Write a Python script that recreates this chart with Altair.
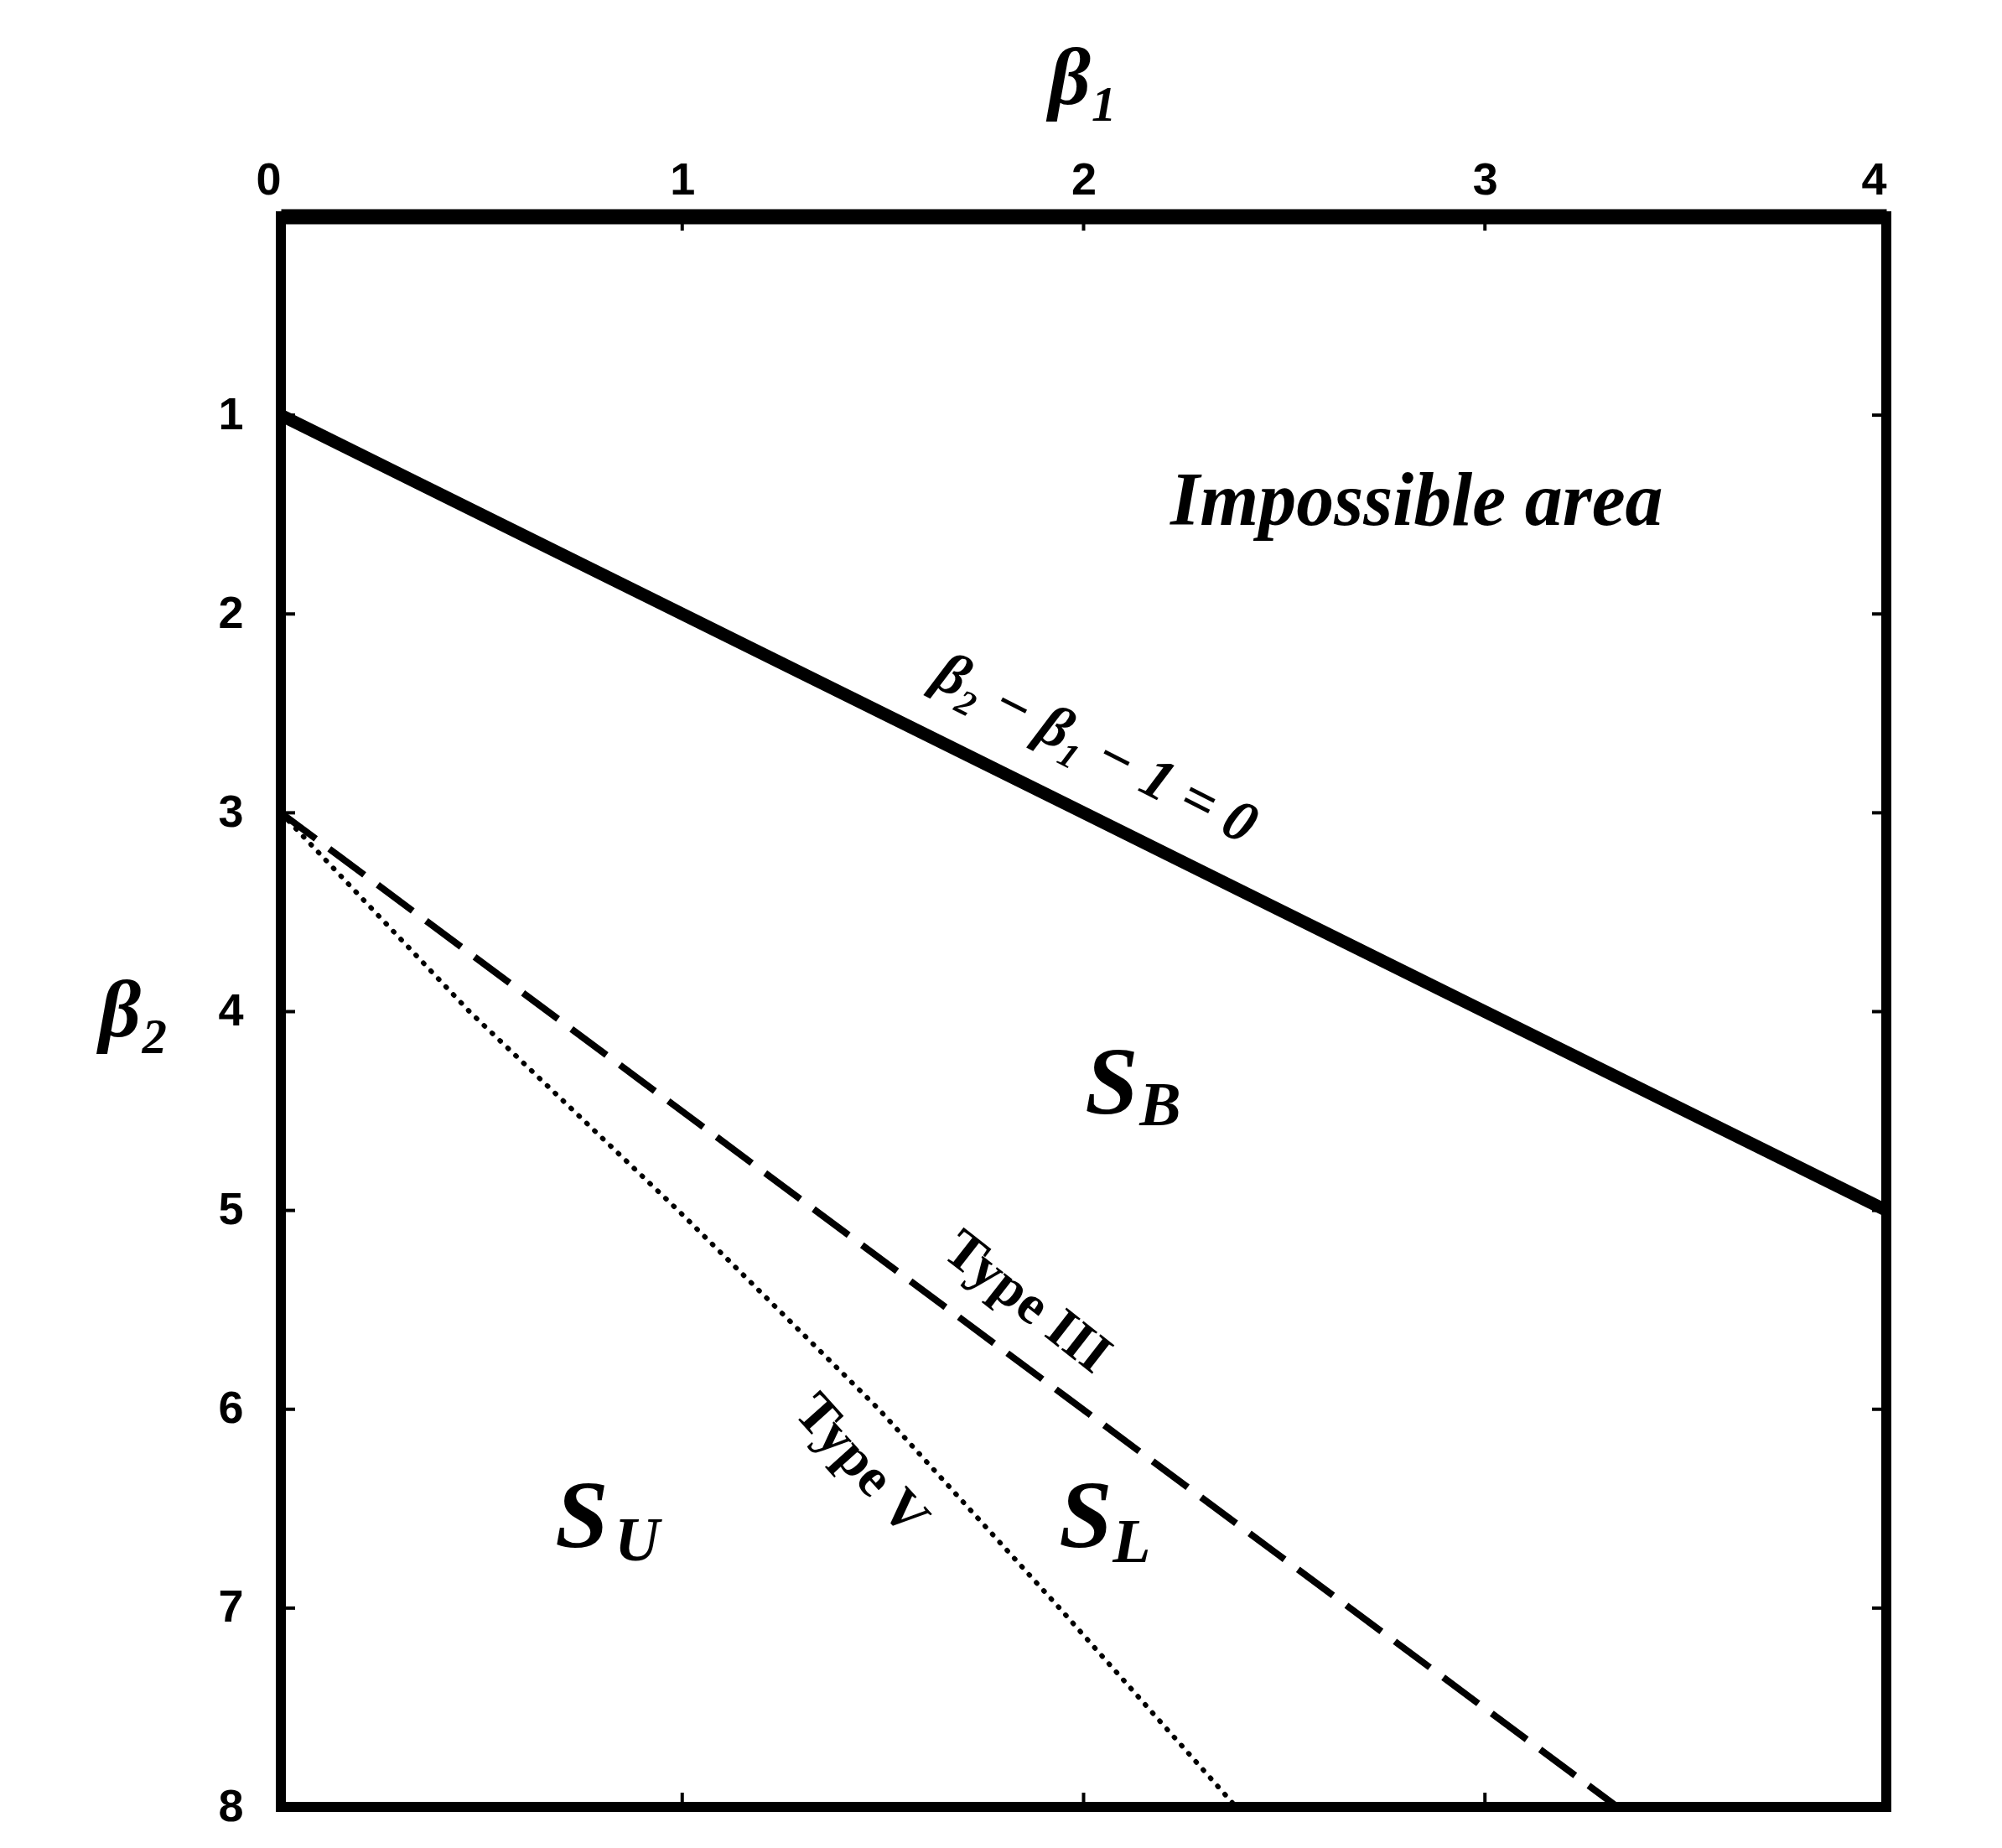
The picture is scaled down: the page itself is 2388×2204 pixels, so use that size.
import altair as alt
import pandas as pd

W, H = 1915, 1897

# axis tick values
b1_ticks = [0, 1, 2, 3, 4]
b2_ticks = [1, 2, 3, 4, 5, 6, 7, 8]
inner_b1_ticks = [1, 2, 3]
inner_b2_ticks = [1, 2, 3, 4, 5, 6, 7]

# boundary  beta2 - beta1 - 1 = 0
boundary_b1 = [0.0, 4.0]
boundary_b2 = [1.0, 5.0]
# Type III line (dashed)
type3_b1 = [0.0, 3.33]
type3_b2 = [3.0, 8.0]
# Type V curve (dotted)
type5_b1 = [0.0, 0.47, 0.99, 1.49, 1.94, 2.38]
type5_b2 = [3.0, 4.0, 5.0, 6.0, 7.0, 8.0]

# annotation positions (beta1, beta2) and texts
region_labels = ["S", "S", "S"]
region_subs = ["B", "U", "L"]
region_b1 = [2.07, 0.75, 2.005]
region_b2 = [4.37, 6.55, 6.55]
sub_dx = [58, 66, 55]
sub_dy = [26, 28, 30]

xscale = alt.Scale(domain=[0, 4], nice=False, zero=False)
yscale = alt.Scale(domain=[0, 8], nice=False, zero=False, reverse=True)

xaxis = alt.Axis(
    orient="top", values=b1_ticks, title="β₁", ticks=False, grid=False,
    domain=True, domainWidth=18, domainColor="black",
    labelFont="Liberation Sans", labelFontWeight="bold", labelFontSize=54,
    labelColor="black", labelPadding=16,
    labelAlign=alt.ExprRef(expr="datum.value == 0 ? 'right' : (datum.value == 4 ? 'right' : 'center')"),
    titleFont="Liberation Serif", titleFontStyle="italic", titleFontWeight="bold",
    titleFontSize=98, titleColor="black", titlePadding=44,
)
yaxis = alt.Axis(
    orient="left", values=b2_ticks, title="β₂", ticks=False, grid=False, domain=False,
    labelFont="Liberation Sans", labelFontWeight="bold", labelFontSize=54,
    labelColor="black", labelPadding=45,
    titleFont="Liberation Serif", titleFontStyle="italic", titleFontWeight="bold",
    titleFontSize=98, titleColor="black", titleAngle=0, titleAlign="right",
    titleBaseline="middle", titlePadding=58,
)


def X(f):
    return alt.X(f"{f}:Q", scale=xscale, axis=xaxis)


def Y(f):
    return alt.Y(f"{f}:Q", scale=yscale, axis=yaxis)


df_boundary = pd.DataFrame({"b1": boundary_b1, "b2": boundary_b2})
df_t3 = pd.DataFrame({"b1": type3_b1, "b2": type3_b2})
df_t5 = pd.DataFrame({"b1": type5_b1, "b2": type5_b2})

boundary = alt.Chart(df_boundary).mark_line(color="black", strokeWidth=15, clip=True).encode(x=X("b1"), y=Y("b2"))
t3 = alt.Chart(df_t3).mark_line(color="black", strokeWidth=8, strokeDash=[52, 20], clip=True).encode(x=X("b1"), y=Y("b2"))
t5 = alt.Chart(df_t5).mark_line(color="black", strokeWidth=6, strokeDash=[1, 12], strokeCap="round", clip=True).encode(x=X("b1"), y=Y("b2"))

df_xt = pd.DataFrame({"v": inner_b1_ticks})
df_yt = pd.DataFrame({"v": inner_b2_ticks})
TL = 17
top_ticks = alt.Chart(df_xt).mark_rule(color="black", strokeWidth=4).encode(x=X("v"), y=alt.value(0), y2=alt.value(TL))
bot_ticks = alt.Chart(df_xt).mark_rule(color="black", strokeWidth=4).encode(x=X("v"), y=alt.value(H), y2=alt.value(H - TL))
left_ticks = alt.Chart(df_yt).mark_rule(color="black", strokeWidth=4).encode(y=Y("v"), x=alt.value(0), x2=alt.value(TL))
right_ticks = alt.Chart(df_yt).mark_rule(color="black", strokeWidth=4).encode(y=Y("v"), x=alt.value(W), x2=alt.value(W - TL))


def label(text, b1, b2, size, angle=0, style="normal", weight="normal", font="Liberation Serif"):
    d = pd.DataFrame({"b1": [b1], "b2": [b2], "t": [text]})
    return alt.Chart(d).mark_text(
        font=font, fontSize=size, fontStyle=style, fontWeight=weight, angle=angle,
        align="center", baseline="middle", color="black",
    ).encode(x=X("b1"), y=Y("b2"), text="t:N")


imp = label("Impossible area", 2.83, 1.44, 90, style="italic", weight="bold")
eq = label("β₂ − β₁ − 1 = 0", 2.03, 2.68, 70, angle=27, style="italic", weight="bold")
lab3 = label("Type III", 1.86, 5.46, 66, angle=38, weight="bold")
lab5 = label("Type V", 1.447, 6.28, 66, angle=48, weight="bold")

s_layers = []
for t, s, b1, b2, dx, dy in zip(region_labels, region_subs, region_b1, region_b2, sub_dx, sub_dy):
    d = pd.DataFrame({"b1": [b1], "b2": [b2], "t": [t], "s": [s]})
    base = alt.Chart(d)
    s_layers.append(base.mark_text(font="Liberation Serif", fontSize=114, fontStyle="italic", fontWeight="bold",
                                   align="center", baseline="middle", color="black").encode(x=X("b1"), y=Y("b2"), text="t:N"))
    s_layers.append(base.mark_text(font="Liberation Serif", fontSize=74, fontStyle="italic", fontWeight="bold",
                                   align="center", baseline="middle", color="black", dx=dx, dy=dy).encode(x=X("b1"), y=Y("b2"), text="s:N"))

chart = alt.layer(
    boundary, t3, t5, top_ticks, bot_ticks, left_ticks, right_ticks, imp, eq, lab3, lab5, *s_layers
).properties(
    width=W, height=H,
    autosize=alt.AutoSizeParams(type="none"),
    padding={"left": 327, "top": 250, "right": 100, "bottom": 30},
    background="white",
).configure_view(stroke="black", strokeWidth=12)

chart.save("out.html", embed_options={"renderer": "svg", "actions": False})
